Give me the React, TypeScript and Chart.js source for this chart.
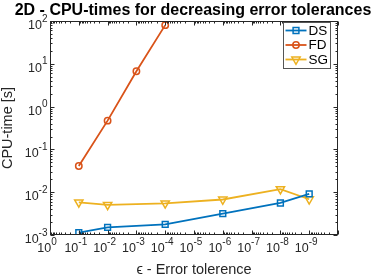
import React, { useEffect, useRef } from 'react';
import { Chart, registerables } from 'chart.js';

Chart.register(...registerables);

// ---- data ----
const tolDS = [1e-1, 1e-2, 1e-4, 1e-6, 1e-8, 1e-9];
const timeDS = [1.13e-3, 1.51e-3, 1.77e-3, 3.16e-3, 5.6e-3, 9.1e-3];
const tolFD = [1e-1, 1e-2, 1e-3, 1e-4];
const timeFD = [0.041, 0.47, 6.7, 80];
const tolSG = [1e-1, 1e-2, 1e-4, 1e-6, 1e-8, 1e-9];
const timeSG = [5.8e-3, 5.05e-3, 5.5e-3, 6.75e-3, 1.18e-2, 6.85e-3];

const seriesNames = ['DS', 'FD', 'SG'];
const seriesColors = ['#0072BD', '#D95319', '#EDB120'];
const xLabelExps = [0, -1, -2, -3, -4, -5, -6, -7, -8, -9];
const xTickExps = [0, -1, -2, -3, -4, -5, -6, -7, -8, -9, -10];
const yTickExps = [2, 1, 0, -1, -2, -3];
const titleText = '2D - CPU-times for decreasing error tolerances';
const xTitle = '\u03F5 - Error tolerence';
const yTitle = 'CPU-time [s]';

const FONT = '"Liberation Sans", Arial, Helvetica, sans-serif';
const AXC = '#262626';
const BASE_PX = 12.5;
const EXP_PX = 10;
const RAISE = 7.5;

function drawPow(ctx: CanvasRenderingContext2D, exp: number, x: number, baseY: number, align: 'center' | 'right') {
  const b = '10';
  const e = exp < 0 ? '-' + String(-exp) : String(exp);
  ctx.font = `${BASE_PX}px ${FONT}`;
  const wb = ctx.measureText(b).width;
  ctx.font = `${EXP_PX}px ${FONT}`;
  const we = ctx.measureText(e).width;
  const total = wb + we;
  const left = align === 'center' ? x - total / 2 : x - total;
  ctx.textAlign = 'left';
  ctx.textBaseline = 'alphabetic';
  ctx.font = `${BASE_PX}px ${FONT}`;
  ctx.fillText(b, left, baseY);
  ctx.font = `${EXP_PX}px ${FONT}`;
  ctx.fillText(e, left + wb, baseY - RAISE);
}

function drawMarker(ctx: CanvasRenderingContext2D, kind: number, x: number, y: number) {
  ctx.beginPath();
  if (kind === 0) {
    ctx.rect(x - 2.9, y - 2.9, 5.8, 5.8);
  } else if (kind === 1) {
    ctx.arc(x, y, 3.2, 0, Math.PI * 2);
  } else {
    const r = 4.8;
    ctx.moveTo(x, y + r);
    ctx.lineTo(x - r * 0.866, y - r * 0.5);
    ctx.lineTo(x + r * 0.866, y - r * 0.5);
    ctx.closePath();
  }
  ctx.stroke();
}

const matlabPlugin = {
  id: 'matlabAxes',
  afterDraw(chart: any) {
    const { ctx, chartArea: a, scales } = chart;
    const xs = scales.x;
    const ys = scales.y;
    const L = a.left + 0.5, R = a.right - 0.5, T = a.top + 0.5, B = a.bottom - 0.5;
    ctx.save();
    // box
    ctx.strokeStyle = AXC;
    ctx.lineWidth = 1;
    ctx.strokeRect(L, T, R - L, B - T);
    // ticks
    ctx.beginPath();
    for (const e of xTickExps) {
      const px = Math.round(xs.getPixelForValue(Math.pow(10, e))) + 0.5;
      ctx.moveTo(px, B); ctx.lineTo(px, B - 4);
      ctx.moveTo(px, T); ctx.lineTo(px, T + 4);
      if (e < 0) {
        for (let k = 2; k <= 9; k++) {
          const p = Math.round(xs.getPixelForValue(k * Math.pow(10, e))) + 0.5;
          ctx.moveTo(p, B); ctx.lineTo(p, B - 2);
          ctx.moveTo(p, T); ctx.lineTo(p, T + 2);
        }
      }
    }
    for (const e of yTickExps) {
      const py = Math.round(ys.getPixelForValue(Math.pow(10, e))) + 0.5;
      ctx.moveTo(L, py); ctx.lineTo(L + 4, py);
      ctx.moveTo(R, py); ctx.lineTo(R - 4, py);
      if (e < 2) {
        for (let k = 2; k <= 9; k++) {
          const p = Math.round(ys.getPixelForValue(k * Math.pow(10, e))) + 0.5;
          ctx.moveTo(L, p); ctx.lineTo(L + 2, p);
          ctx.moveTo(R, p); ctx.lineTo(R - 2, p);
        }
      }
    }
    ctx.stroke();

    // tick labels
    ctx.fillStyle = AXC;
    for (const e of xLabelExps) {
      const px = xs.getPixelForValue(Math.pow(10, e));
      drawPow(ctx, e, px - 3, a.bottom + 17, 'center');
    }
    for (const e of yTickExps) {
      const py = ys.getPixelForValue(Math.pow(10, e));
      drawPow(ctx, e, a.left - 2.5, py + 8, 'right');
    }

    // axis titles
    ctx.fillStyle = AXC;
    ctx.font = `14.5px ${FONT}`;
    ctx.textAlign = 'center';
    ctx.textBaseline = 'alphabetic';
    ctx.fillText(xTitle, (a.left + a.right) / 2, 274);
    ctx.save();
    ctx.translate(11.5, (a.top + a.bottom) / 2);
    ctx.rotate(-Math.PI / 2);
    ctx.fillText(yTitle, 0, 0);
    ctx.restore();

    // title
    ctx.fillStyle = '#000';
    ctx.font = `bold 16px ${FONT}`;
    ctx.textAlign = 'center';
    ctx.fillText(titleText, (a.left + a.right) / 2 - 1, 14.5);

    // legend
    const lx = 283.5, ly = 22.5, lw = 47, lh = 46;
    ctx.fillStyle = '#fff';
    ctx.fillRect(lx, ly, lw, lh);
    ctx.strokeStyle = '#555';
    ctx.lineWidth = 1;
    ctx.strokeRect(lx, ly, lw, lh);
    const rows = [30.5, 45, 59.5];
    for (let i = 0; i < 3; i++) {
      const y = rows[i];
      ctx.strokeStyle = seriesColors[i];
      ctx.lineWidth = 1.8;
      ctx.beginPath();
      ctx.moveTo(285.5, y); ctx.lineTo(306.5, y);
      ctx.stroke();
      ctx.lineWidth = 1.5;
      drawMarker(ctx, i, 296, y);
      ctx.fillStyle = '#000';
      ctx.font = `13.5px ${FONT}`;
      ctx.textAlign = 'left';
      ctx.textBaseline = 'middle';
      ctx.fillText(seriesNames[i], 308.5, y + 0.5);
    }
    ctx.restore();
  },
};

export default function App() {
  const ref = useRef<HTMLCanvasElement>(null);
  useEffect(() => {
    const mk = (xsArr: number[], ysArr: number[]) => xsArr.map((x, i) => ({ x, y: ysArr[i] }));
    const chart = new Chart(ref.current as HTMLCanvasElement, {
      type: 'line',
      data: {
        datasets: [
          {
            label: seriesNames[0],
            data: mk(tolDS, timeDS),
            borderColor: seriesColors[0],
            backgroundColor: 'rgba(0,0,0,0)',
            borderWidth: 1.8,
            pointStyle: 'rect',
            pointRadius: 4.1,
            pointBorderWidth: 1.5,
            pointBackgroundColor: 'rgba(0,0,0,0)',
            pointBorderColor: seriesColors[0],
          },
          {
            label: seriesNames[1],
            data: mk(tolFD, timeFD),
            borderColor: seriesColors[1],
            backgroundColor: 'rgba(0,0,0,0)',
            borderWidth: 1.8,
            pointStyle: 'circle',
            pointRadius: 3.2,
            pointBorderWidth: 1.5,
            pointBackgroundColor: 'rgba(0,0,0,0)',
            pointBorderColor: seriesColors[1],
          },
          {
            label: seriesNames[2],
            data: mk(tolSG, timeSG),
            borderColor: seriesColors[2],
            backgroundColor: 'rgba(0,0,0,0)',
            borderWidth: 1.8,
            pointStyle: 'triangle',
            pointRotation: 180,
            pointRadius: 4.8,
            pointBorderWidth: 1.5,
            pointBackgroundColor: 'rgba(0,0,0,0)',
            pointBorderColor: seriesColors[2],
          },
        ],
      },
      options: {
        responsive: false,
        devicePixelRatio: 1,
        animation: false,
        layout: { padding: { left: 50, right: 36, top: 21, bottom: 42 }, autoPadding: false },
        plugins: { legend: { display: false }, title: { display: false }, tooltip: { enabled: false } },
        scales: {
          x: { type: 'logarithmic', reverse: true, min: 1e-10, max: 1, display: false },
          y: { type: 'logarithmic', min: 1e-3, max: 100, display: false },
        },
      },
      plugins: [matlabPlugin],
    } as any);
    return () => chart.destroy();
  }, []);
  return (
    <div style={{ position: 'fixed', left: 0, top: 0, width: 374, height: 277, background: '#fff' }}>
      <canvas ref={ref} width={374} height={277} style={{ display: 'block', width: 374, height: 277 }} />
    </div>
  );
}
